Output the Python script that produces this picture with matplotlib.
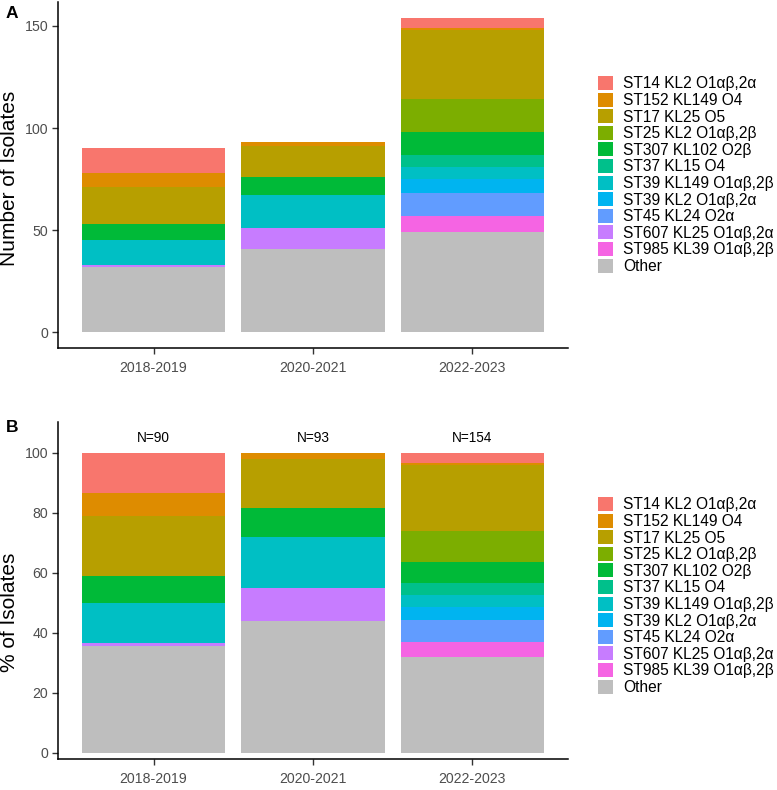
import matplotlib.pyplot as plt
from matplotlib.patches import Patch

plt.rcParams['font.family'] = ['Liberation Sans', 'DejaVu Sans']

periods = ["2018-2019", "2020-2021", "2022-2023"]

# legend order (top of stack first)
genotypes = ["ST14 KL2 O1αβ,2α", "ST152 KL149 O4", "ST17 KL25 O5",
             "ST25 KL2 O1αβ,2β", "ST307 KL102 O2β", "ST37 KL15 O4",
             "ST39 KL149 O1αβ,2β", "ST39 KL2 O1αβ,2α", "ST45 KL24 O2α",
             "ST607 KL25 O1αβ,2α", "ST985 KL39 O1αβ,2β", "Other"]

# isolate counts per genotype, one value per period
counts = {
    "ST14 KL2 O1αβ,2α":   [12, 0, 5],
    "ST152 KL149 O4":     [7, 2, 1],
    "ST17 KL25 O5":       [18, 15, 34],
    "ST25 KL2 O1αβ,2β":   [0, 0, 16],
    "ST307 KL102 O2β":    [8, 9, 11],
    "ST37 KL15 O4":       [0, 0, 6],
    "ST39 KL149 O1αβ,2β": [12, 16, 6],
    "ST39 KL2 O1αβ,2α":   [0, 0, 7],
    "ST45 KL24 O2α":      [0, 0, 11],
    "ST607 KL25 O1αβ,2α": [1, 10, 0],
    "ST985 KL39 O1αβ,2β": [0, 0, 8],
    "Other":              [32, 41, 49],
}

colors = ["#F8766D", "#DE8C00", "#B79F00", "#7CAE00", "#00BA38", "#00C08B",
          "#00BFC4", "#00B4F0", "#619CFF", "#C77CFF", "#F564E3", "#BEBEBE"]

totals = [sum(counts[g][i] for g in genotypes) for i in range(len(periods))]

W, H = 777, 790
fig = plt.figure(figsize=(W / 100, H / 100), dpi=100)


def px_axes(left, top, right, bottom):
    return fig.add_axes([left / W, (H - bottom) / H, (right - left) / W, (bottom - top) / H])


def style(ax):
    for s in ["top", "right"]:
        ax.spines[s].set_visible(False)
    for s in ["left", "bottom"]:
        ax.spines[s].set_linewidth(1.1)
        ax.spines[s].set_color("black")
    ax.tick_params(axis="both", length=4, width=1.0, color="#333333",
                   labelcolor="#4D4D4D", labelsize=10.2, pad=3)
    ax.tick_params(axis="x", pad=5)


def stacked(ax, values_of):
    x = list(range(1, len(periods) + 1))
    bottom = [0.0] * len(periods)
    for g, c in zip(genotypes[::-1], colors[::-1]):
        vals = values_of(g)
        ax.bar(x, vals, width=0.9, bottom=bottom, color=c, linewidth=0)
        bottom = [b + v for b, v in zip(bottom, vals)]
    ax.set_xticks(x)
    ax.set_xticklabels(periods)
    ax.set_xlim(0.4, len(periods) + 0.6)


def add_legend(yc):
    handles = [Patch(facecolor=c, edgecolor="none") for c in colors]
    fs = 11.2
    fspx = fs / 0.72
    fig.legend(handles, genotypes, loc="center left",
               bbox_to_anchor=(597.5 / W, (H - yc) / H), bbox_transform=fig.transFigure,
               frameon=False, fontsize=fs, borderpad=0, borderaxespad=0,
               handlelength=15.5 / fspx, handleheight=15.5 / fspx,
               handletextpad=10.0 / fspx, labelspacing=0.085)


# panel A: counts
axA = px_axes(58, 2, 568, 348)
stacked(axA, lambda g: counts[g])
axA.set_ylim(-7.7, 161.7)
axA.set_yticks([0, 50, 100, 150])
style(axA)
fig.text(10 / W, (H - 178) / H, "Number of Isolates", fontsize=15, rotation=90,
         ha="center", va="center")
add_legend(175)
fig.text(12 / W, (H - 13) / H, "A", fontsize=12.5, fontweight="bold", ha="center", va="center")

# panel B: percentages
axB = px_axes(58, 422.3, 568, 759.3)
stacked(axB, lambda g: [counts[g][i] / totals[i] * 100 for i in range(len(periods))])
axB.set_ylim(-2.2, 110.2)
axB.set_yticks([0, 20, 40, 60, 80, 100])
style(axB)
fig.text(10 / W, (H - 612) / H, "% of Isolates", fontsize=15, rotation=90,
         ha="center", va="center")
for i, n in enumerate(totals):
    axB.text(i + 1, 104.8, "N=" + str(n), ha="center", va="center", fontsize=9.8)
add_legend(596)
fig.text(12 / W, (H - 427) / H, "B", fontsize=12.5, fontweight="bold", ha="center", va="center")

fig.savefig("out.png", dpi=100)
